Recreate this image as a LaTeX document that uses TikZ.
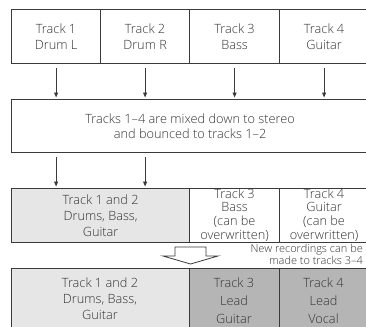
\documentclass[tikz,border=0pt]{standalone}
\usepackage{fontspec}
\setmainfont{Open Sans Light}
\usetikzlibrary{arrows.meta}
\definecolor{ink}{HTML}{3A3A3A}
\definecolor{txt}{HTML}{333333}
\definecolor{lightfill}{HTML}{E6E6E6}
\definecolor{darkfill}{HTML}{B5B5B5}
\begin{document}
\begin{tikzpicture}[x=1bp,y=-1bp,
  cell/.style={draw=ink, line width=1.2bp, minimum height=54bp, inner sep=0pt, anchor=north west},
  lbl/.style={text=txt, align=center, inner sep=0pt, font=\fontsize{12.8}{16}\selectfont},
  arr/.style={draw=ink, line width=0.9bp, -{Triangle[length=5bp,width=4bp]}, shorten <=4bp, shorten >=1.5bp}]
\useasboundingbox (0,0) rectangle (366,327);
% row 1
\node[cell, minimum width=89bp] (t1) at (11,9) {};
\node[cell, minimum width=89bp] (t2) at (100,9) {};
\node[cell, minimum width=90bp] (t3) at (189,9) {};
\node[cell, minimum width=89bp] (t4) at (279,9) {};
\node[lbl] (l1) at (t1.center) {Track 1\\Drum L};
\node[lbl] (l2) at (t2.center) {Track 2\\Drum R};
\node[lbl] (l3) at (t3.center) {Track 3\\Bass};
\node[lbl] (l4) at (t4.center) {Track 4\\Guitar};
% mix box
\node[cell, minimum width=357bp, minimum height=53bp] (mix) at (11,99) {};
\node[lbl, font=\fontsize{12.8}{15}\selectfont] (lmix) at (mix.center) {Tracks 1–4 are mixed down to stereo\\and bounced to tracks 1–2};
% arrows
\foreach \c in {t1,t2,t3,t4}
  \draw[arr] (\c.south) -- (\c.south |- mix.north);
% row 3
\node[cell, fill=lightfill, minimum width=178bp] (b12) at (11,188) {};
\node[cell, minimum width=90bp] (b3) at (189,188) {};
\node[cell, minimum width=89bp] (b4) at (279,188) {};
\node[lbl] (lb12) at (b12.center) {Track 1 and 2\\Drums, Bass,\\Guitar};
\node[lbl, font=\fontsize{12.8}{14}\selectfont] (lb3) at ([yshift=0.5bp]b3.center) {Track 3\\Bass\\(can be\\overwritten)};
\node[lbl, font=\fontsize{12.8}{14}\selectfont] (lb4) at ([yshift=0.5bp]b4.center) {Track 4\\Guitar\\(can be\\overwritten)};
\foreach \c in {t1,t2}
  \draw[arr] (\c.south |- mix.south) -- (\c.south |- b12.north);
% big arrow
\draw[draw=ink, line width=0.8bp, fill=white] (175,247) -- (206,247) -- (206,256) -- (218,256) -- (190.5,264) -- (163,256) -- (175,256) -- cycle;
\node[lbl, font=\fontsize{11}{12.5}\selectfont, align=right, anchor=east] (note) at (363,254.5) {New recordings can be\\made to tracks 3–4};
% row 4
\node[cell, fill=lightfill, minimum width=178bp, minimum height=72bp] (c12) at (11,268) {};
\node[cell, fill=darkfill, minimum width=90bp, minimum height=72bp] (c3) at (189,268) {};
\node[cell, fill=darkfill, minimum width=89bp, minimum height=72bp] (c4) at (279,268) {};
\node[lbl] (lc12) at (100,299) {Track 1 and 2\\Drums, Bass,\\Guitar};
\node[lbl, font=\fontsize{12.8}{18}\selectfont] (lc3) at (234,301) {Track 3\\Lead\\Guitar};
\node[lbl, font=\fontsize{12.8}{18}\selectfont] (lc4) at (323.5,301) {Track 4\\Lead\\Vocal};
\end{tikzpicture}
\end{document}
